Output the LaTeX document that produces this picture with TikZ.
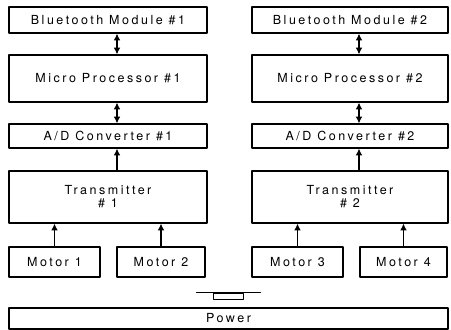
\documentclass[tikz,border=0pt]{standalone}
\usepackage{fontspec}
\setmainfont{TeX Gyre Heros}[LetterSpace=20]
\usepackage{tikz}
\usetikzlibrary{arrows.meta, positioning, calc}
\tikzset{every node/.style={font=\fontsize{12.5}{13}\selectfont}, every path/.style={line cap=round, line join=round}, >={Latex[length=2.4mm, width=2.4mm]}}
\tikzset{blockbox/.style={draw, line width=1.2pt, inner sep=0pt, align=center}}

\begin{document}
\begin{tikzpicture}[x=1pt, y=-1pt]
    \useasboundingbox (0,0) rectangle (451,330);

    % left chain
    \node [blockbox, minimum width=198pt, minimum height=26pt] (bt1) at (108,20) {Bluetooth Module \#1};
    \node [blockbox, minimum width=198pt, minimum height=47pt] (mp1) at (108,78.5) {Micro Processor \#1};
    \node [blockbox, minimum width=198pt, minimum height=24pt] (ad1) at (108,136) {A/D Converter \#1};
    \node [blockbox, minimum width=198pt, minimum height=52pt] (tx1) at (108,197) {Transmitter\\\# 1};
    \node [blockbox, minimum width=91pt, minimum height=30pt] (m1) at (54.5,262) {Motor 1};
    \node [blockbox, minimum width=88pt, minimum height=30pt] (m2) at (161,262) {Motor 2};

    % right chain
    \node [blockbox, minimum width=196pt, minimum height=26pt] (bt2) at (350,20) {Bluetooth Module \#2};
    \node [blockbox, minimum width=196pt, minimum height=47pt] (mp2) at (350,78.5) {Micro Processor \#2};
    \node [blockbox, minimum width=196pt, minimum height=24pt] (ad2) at (350,136) {A/D Converter \#2};
    \node [blockbox, minimum width=196pt, minimum height=52pt] (tx2) at (350,197) {Transmitter\\\# 2};
    \node [blockbox, minimum width=91pt, minimum height=30pt] (m3) at (297.5,262) {Motor 3};
    \node [blockbox, minimum width=87pt, minimum height=30pt] (m4) at (403.5,262) {Motor 4};

    % power
    \node [blockbox, minimum width=439pt, minimum height=21pt] (pwr) at (228.5,318.5) {Power};
    \node [draw, line width=1pt, minimum width=30pt, minimum height=6pt, inner sep=0pt] (pwrlink) at (228,296) {};
    \draw [line width=1pt] ([xshift=-16pt]pwrlink.north west) -- ([xshift=17pt]pwrlink.north east);

    % links
    \foreach \n in {1,2} {
        \draw [<->, line width=1.2pt] ([xshift=9pt]bt\n.south) -- ([xshift=9pt]mp\n.north);
        \draw [<->, line width=1.2pt] ([xshift=9pt]mp\n.south) -- ([xshift=9pt]ad\n.north);
        \draw [->, line width=1.2pt] ([xshift=9pt]tx\n.north) -- ([xshift=9pt]ad\n.south);
    }
    \foreach \m/\t in {m1/tx1, m2/tx1, m3/tx2, m4/tx2} {
        \draw [->, line width=1.2pt] (\m.north) -- (\m.north |- \t.south);
    }
\end{tikzpicture}
\end{document}
